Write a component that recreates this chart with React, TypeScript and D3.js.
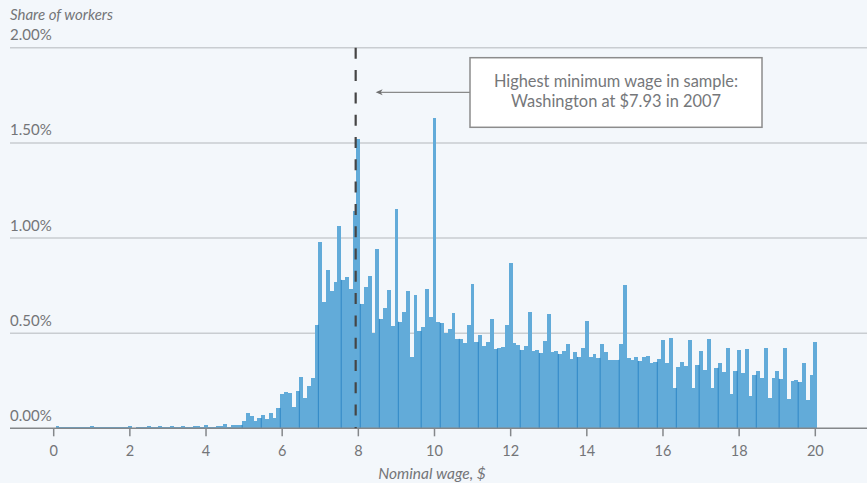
import React from "react";
import * as d3 from "d3";

// Share of workers (%) by nominal wage bin ($0.10 bins, centred on $0.10 … $20.00)
const shares: number[] = [
  // 0.1 – 1.0
  0.010, 0.005, 0.005, 0.005, 0.006, 0.005, 0.005, 0.005, 0.005, 0.010,
  // 1.1 – 2.0
  0.005, 0.005, 0.005, 0.005, 0.006, 0.005, 0.005, 0.005, 0.005, 0.010,
  // 2.1 – 3.0
  0.004, 0.005, 0.005, 0.005, 0.011, 0.005, 0.005, 0.011, 0.005, 0.006,
  // 3.1 – 4.0
  0.011, 0.005, 0.005, 0.011, 0.005, 0.006, 0.011, 0.011, 0.007, 0.017,
  // 4.1 – 5.0
  0.008, 0.008, 0.011, 0.011, 0.023, 0.008, 0.015, 0.018, 0.018, 0.039,
  // 5.1 – 6.0
  0.080, 0.067, 0.039, 0.054, 0.068, 0.049, 0.080, 0.056, 0.107, 0.180,
  // 6.1 – 7.0
  0.190, 0.186, 0.110, 0.196, 0.270, 0.160, 0.220, 0.265, 0.544, 0.980,
  // 7.1 – 8.0
  0.665, 0.830, 0.720, 0.770, 1.065, 0.780, 0.796, 0.733, 1.140, 1.520,
  // 8.1 – 9.0
  0.654, 0.744, 0.800, 0.500, 0.940, 0.575, 0.633, 0.728, 0.539, 1.154,
  // 9.1 – 10.0
  0.560, 0.612, 0.723, 0.375, 0.700, 0.512, 0.533, 0.733, 0.586, 1.633,
  // 10.1 – 11.0
  0.560, 0.554, 0.502, 0.523, 0.607, 0.470, 0.470, 0.449, 0.544, 0.760,
  // 11.1 – 12.0
  0.454, 0.490, 0.433, 0.454, 0.575, 0.417, 0.423, 0.428, 0.544, 0.870,
  // 12.1 – 13.0
  0.449, 0.439, 0.412, 0.433, 0.612, 0.407, 0.412, 0.396, 0.460, 0.602,
  // 13.1 – 14.0
  0.402, 0.407, 0.391, 0.407, 0.444, 0.365, 0.402, 0.375, 0.423, 0.565,
  // 14.1 – 15.0
  0.375, 0.391, 0.370, 0.444, 0.402, 0.360, 0.360, 0.360, 0.444, 0.754,
  // 15.1 – 16.0
  0.370, 0.360, 0.375, 0.354, 0.375, 0.380, 0.344, 0.349, 0.365, 0.465,
  // 16.1 – 17.0
  0.344, 0.475, 0.212, 0.323, 0.349, 0.328, 0.465, 0.212, 0.333, 0.407,
  // 17.1 – 18.0
  0.307, 0.470, 0.212, 0.318, 0.344, 0.296, 0.423, 0.181, 0.302, 0.412,
  // 18.1 – 19.0
  0.291, 0.418, 0.170, 0.281, 0.302, 0.265, 0.423, 0.160, 0.265, 0.302,
  // 19.1 – 20.0
  0.260, 0.423, 0.154, 0.249, 0.254, 0.244, 0.344, 0.149, 0.281, 0.454,
];

const binWidth = 0.1;
const wages: number[] = shares.map((_, i) => Math.round((i + 1) * binWidth * 10) / 10);

const xTicks: number[] = [0, 2, 4, 6, 8, 10, 12, 14, 16, 18, 20];
const yTicks: number[] = [0, 0.5, 1.0, 1.5, 2.0];

// bin edges where the rendered histogram shows darker seams
const seamEdges: number[] = [
  4.95, 5.45, 5.95, 6.45, 6.95, 7.55, 8.05, 8.55, 9.05, 9.65, 10.15, 10.65,
  11.15, 11.65, 12.25, 12.75, 13.25, 13.75, 14.35, 14.85, 15.35, 15.85, 16.35,
  16.95, 17.45, 17.95, 18.45, 19.05, 19.55,
];

const minimumWage = 7.93;
const annotationLines: string[] = [
  "Highest minimum wage in sample:",
  "Washington at $7.93 in 2007",
];

const W = 867;
const H = 483;
const FONT = "Lato, 'Open Sans', sans-serif";
const TEXT = "#737578";
const BG = "#f3f7fb";
const BAR = "#62abd9";
const SEAM = "#2f87c6";

export default function App() {
  const x = d3.scaleLinear().domain([0, 20]).range([53.7, 815.3]);
  const y = d3.scaleLinear().domain([0, 2]).range([428.3, 47.8]);
  const fmt = (v: number) => d3.format(".2f")(v) + "%";

  const shareAt = (w: number) => {
    const i = Math.round(w / binWidth) - 1;
    return i >= 0 && i < shares.length ? shares[i] : 0;
  };

  const boxX = 470;
  const boxY = 57.7;
  const boxW = 292;
  const boxH = 69.6;
  const arrowY = 92.3;
  const arrowTip = x(minimumWage) + 20;

  return (
    <svg
      width={W}
      height={H}
      style={{ position: "absolute", left: 0, top: 0, background: BG }}
      fontFamily={FONT}
    >
      <rect x={0} y={0} width={W} height={H} fill={BG} />

      {/* title of y axis */}
      <text x={10} y={20} fontSize={15} fontStyle="italic" fill={TEXT}>
        Share of workers
      </text>

      {/* gridlines + y labels */}
      {yTicks.map((t) => (
        <g key={t}>
          {t > 0 && (
            <line x1={10} x2={W} y1={y(t)} y2={y(t)} stroke="#c9cdd1" strokeWidth={1.5} />
          )}
          <text x={10} y={y(t) - 7.5} fontSize={15} fill={TEXT}>
            {fmt(t)}
          </text>
        </g>
      ))}

      {/* bars */}
      <g shapeRendering="crispEdges">
        {wages.map((w, i) => (
          <rect
            key={w}
            x={x(w - binWidth / 2)}
            width={x(binWidth) - x(0)}
            y={y(shares[i])}
            height={y(0) - y(shares[i])}
            fill={BAR}
          />
        ))}
      </g>

      {/* seams */}
      {seamEdges.map((e) => {
        const h = Math.min(shareAt(e - binWidth / 2), shareAt(e + binWidth / 2));
        return (
          <line
            key={e}
            x1={x(e)}
            x2={x(e)}
            y1={y(0)}
            y2={y(h)}
            stroke={SEAM}
            strokeWidth={1}
          />
        );
      })}

      {/* x axis */}
      <line x1={10} x2={W} y1={y(0)} y2={y(0)} stroke="#84878a" strokeWidth={1.5} />
      {xTicks.map((t) => (
        <g key={t}>
          <line x1={x(t)} x2={x(t)} y1={y(0)} y2={y(0) + 8} stroke="#84878a" strokeWidth={1.5} />
          <text x={x(t)} y={456} fontSize={14.5} fill={TEXT} textAnchor="middle">
            {t}
          </text>
        </g>
      ))}
      <text x={432} y={479} fontSize={15.5} fontStyle="italic" fill={TEXT} textAnchor="middle">
        Nominal wage, $
      </text>

      {/* minimum wage line */}
      <line
        x1={x(minimumWage)}
        x2={x(minimumWage)}
        y1={y(2)}
        y2={y(0)}
        stroke="#454545"
        strokeWidth={2.2}
        strokeDasharray="11 11.3"
      />

      {/* annotation */}
      <line x1={boxX} x2={arrowTip + 3} y1={arrowY} y2={arrowY} stroke="#6f6f6f" strokeWidth={1} />
      <path
        d={`M${arrowTip},${arrowY} L${arrowTip + 7},${arrowY - 3} L${arrowTip + 5},${arrowY} L${arrowTip + 7},${arrowY + 3} Z`}
        fill="#6f6f6f"
      />
      <rect x={boxX} y={boxY} width={boxW} height={boxH} fill="#ffffff" stroke="#8c8c8c" strokeWidth={1.5} />
      {annotationLines.map((l, i) => (
        <text
          key={l}
          x={boxX + boxW / 2}
          y={87 + i * 20}
          fontSize={16.4}
          fill="#75777a"
          textAnchor="middle"
        >
          {l}
        </text>
      ))}
    </svg>
  );
}
